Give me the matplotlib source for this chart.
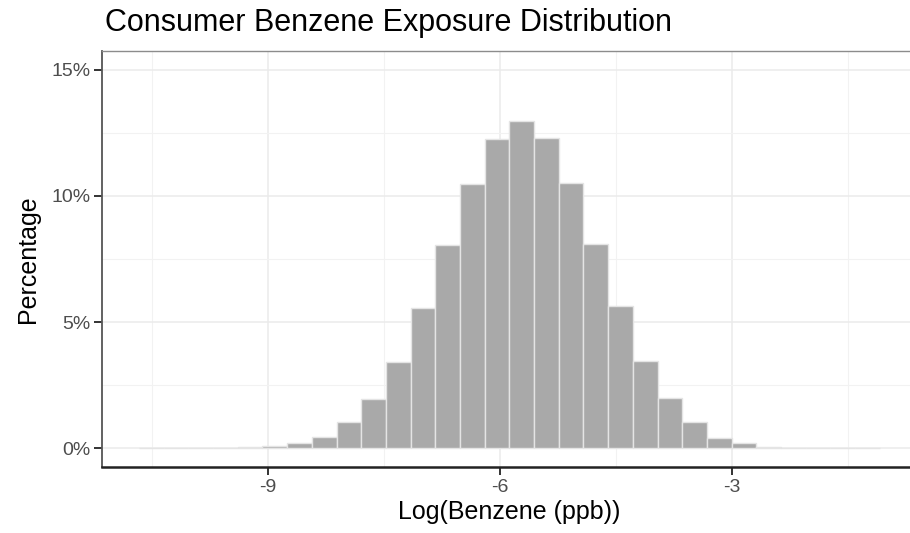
import matplotlib
matplotlib.use("Agg")
import matplotlib.pyplot as plt
import numpy as np

# histogram of log benzene, 30 bins, heights in percent
bin_start = -10.671
bin_width = 0.3193
pct = [0.005, 0.01, 0.01, 0.02, 0.03, 0.07, 0.22, 0.44, 1.02, 1.93,
       3.42, 5.54, 8.04, 10.47, 12.26, 12.99, 12.31, 10.52, 8.09, 5.63,
       3.46, 1.97, 1.03, 0.42, 0.21, 0.06, 0.02, 0.01, 0.01, 0.005]
x_ticks = [-9, -6, -3]
y_ticks = [0, 5, 10, 15]
y_tick_labels = ["0%", "5%", "10%", "15%"]

plt.rcParams['font.family'] = ['Liberation Sans', 'DejaVu Sans']

W, H = 910, 533
fig = plt.figure(figsize=(W / 100, H / 100), dpi=100)
ax = fig.add_axes([102 / W, 1 - 467 / H, (917 - 102) / W, (467 - 51) / H])

lefts = bin_start + bin_width * np.arange(len(pct))
ax.bar(lefts, pct, width=bin_width, align='edge', color='#A9A9A9',
       edgecolor='#E4E4E4', linewidth=1.0, zorder=3)

ax.set_xlim(-11.15, -0.61)
ax.set_ylim(-0.75, 15.75)
ax.set_xticks(x_ticks)
ax.set_xticklabels([str(t) for t in x_ticks])
ax.set_yticks(y_ticks)
ax.set_yticklabels(y_tick_labels)
ax.set_xticks([-10.5, -7.5, -4.5, -1.5], minor=True)
ax.set_yticks([2.5, 7.5, 12.5], minor=True)

ax.grid(True, which='major', color='#EBEBEB', linewidth=1.1, zorder=0)
ax.grid(True, which='minor', color='#F2F2F2', linewidth=0.8, zorder=0)
ax.set_axisbelow(True)

ax.tick_params(which='major', length=5.5, width=1.4, color='#333333',
               labelcolor='#4D4D4D', labelsize=14, pad=3)
ax.tick_params(which='minor', length=0)

ax.spines['top'].set_color('#8C8C8C')
ax.spines['top'].set_linewidth(1.0)
ax.spines['right'].set_color('#8C8C8C')
ax.spines['left'].set_color('#555555')
ax.spines['left'].set_linewidth(1.3)
ax.spines['bottom'].set_color('#222222')
ax.spines['bottom'].set_linewidth(1.8)

ax.set_xlabel('Log(Benzene (ppb))', fontsize=18, labelpad=3)
ax.set_ylabel('Percentage', fontsize=18, labelpad=8)

fig.text(105 / W, 1 - 31 / H, 'Consumer Benzene Exposure Distribution',
         fontsize=22, va='baseline', ha='left')

fig.savefig('out.png', dpi=100)
